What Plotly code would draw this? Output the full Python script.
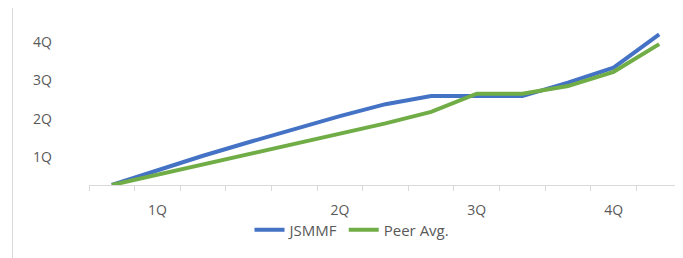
import plotly.graph_objects as go

# ---- data ----
x_index = list(range(13))
x_labels = ["", "1Q", "", "", "", "2Q", "", "", "3Q", "", "", "4Q", ""]
y_tick_vals = [1, 2, 3, 4]
y_tick_text = ["1Q", "2Q", "3Q", "4Q"]
jsmmf = [0.28, 0.66, 1.04, 1.39, 1.73, 2.07, 2.38, 2.59, 2.59, 2.59, 2.94, 3.33, 4.19]
peer_avg = [0.28, 0.55, 0.81, 1.08, 1.35, 1.61, 1.88, 2.18, 2.65, 2.65, 2.85, 3.22, 3.94]

BLUE = "#4472C4"
GREEN = "#70AD47"
TEXT = "#595959"
AXIS = "#D9D9D9"
FONT = "Open Sans"

# the page body adds an 8px margin; lay the figure out in page pixels minus it
OFF = 8
PAGE_W, PAGE_H = 683, 258
W, H = PAGE_W - OFF, PAGE_H - OFF

# plot area in page pixels
PL, PR, PT, PB = 89, 682, 20, 185
L, T = PL - OFF, PT - OFF
R = W - (PR - OFF)
B = H - (PB - OFF)
pw, ph = W - L - R, H - T - B

def px_x(p):
    return (p - OFF - L) / pw

def px_y(p):
    return (H - B - (p - OFF)) / ph

fig = go.Figure()
fig.add_trace(go.Scatter(x=x_index, y=jsmmf, mode="lines", name="JSMMF",
                         line=dict(color=BLUE, width=4), cliponaxis=False))
fig.add_trace(go.Scatter(x=x_index, y=peer_avg, mode="lines", name="Peer Avg.",
                         line=dict(color=GREEN, width=4), cliponaxis=False))

fig.update_layout(
    width=W, height=H,
    margin=dict(l=L, r=R, t=T, b=B, pad=0, autoexpand=False),
    paper_bgcolor="white", plot_bgcolor="white",
    font=dict(family=FONT, color=TEXT, size=14),
    showlegend=True,
    legend=dict(orientation="h", x=px_x(352), xanchor="center",
                y=px_y(230), yanchor="middle",
                font=dict(family=FONT, color=TEXT, size=15),
                bgcolor="rgba(0,0,0,0)", itemwidth=30),
    xaxis=dict(range=[-0.5, 12.5], tickmode="array", tickvals=x_index,
               ticktext=x_labels, ticks="", showgrid=False, zeroline=False,
               showline=True, linecolor=AXIS, linewidth=1,
               ticklabelstandoff=12,
               tickfont=dict(family=FONT, color=TEXT, size=14),
               minor=dict(tickmode="array",
                          tickvals=[i - 0.5 for i in range(len(x_index) + 1)],
                          ticks="outside", ticklen=5, tickcolor=AXIS,
                          tickwidth=1, showgrid=False)),
    yaxis=dict(range=[0.28, 4.566], tickmode="array", tickvals=y_tick_vals,
               ticktext=y_tick_text, ticks="", showgrid=False, zeroline=False,
               showline=False, ticklabelstandoff=36,
               tickfont=dict(family=FONT, color=TEXT, size=14)),
    shapes=[dict(type="rect", xref="paper", yref="paper",
                 x0=px_x(12.5), x1=px_x(680.5), y0=px_y(262), y1=px_y(3.5),
                 line=dict(color=AXIS, width=1), fillcolor="rgba(0,0,0,0)",
                 layer="below")],
)

fig.write_html("out.html")
